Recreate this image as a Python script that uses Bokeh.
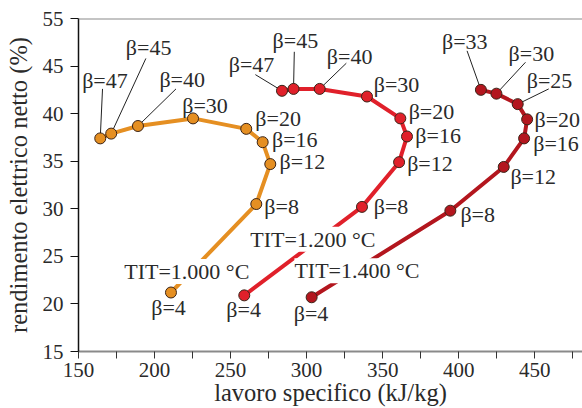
from bokeh.plotting import figure
from bokeh.models import ColumnDataSource, Label, Span, FixedTicker, Range1d
from bokeh.embed import file_html
from bokeh.resources import INLINE
from bokeh.core.properties import value

# ---------------- data ----------------
beta_1000 = [4, 8, 12, 16, 20, 30, 40, 45, 47]
work_1000 = [210.8, 266.9, 276.1, 271.1, 260.3, 225.3, 189.1, 171.5, 164.3]
eff_1000 = [21.2, 30.5, 34.7, 37.0, 38.4, 39.5, 38.7, 37.9, 37.4]

beta_1200 = [4, 8, 12, 16, 20, 30, 40, 45, 47]
work_1200 = [259.0, 336.4, 360.8, 366.0, 361.6, 339.7, 308.6, 291.4, 283.8]
eff_1200 = [20.9, 30.2, 34.9, 37.6, 39.5, 41.8, 42.6, 42.6, 42.4]

beta_1400 = [4, 8, 12, 16, 20, 25, 30, 33]
work_1400 = [303.3, 394.5, 429.6, 443.0, 445.0, 438.8, 424.8, 414.6]
eff_1400 = [20.7, 29.8, 34.4, 37.4, 39.4, 41.0, 42.1, 42.5]

tit_labels = ["TIT=1.000 °C", "TIT=1.200 °C", "TIT=1.400 °C"]
tit_x = [221.2, 304.1, 333.1]
tit_y = [23.4, 26.8, 23.5]

# label placement (data units) for each beta label
lab_x_1000 = [209.2, 272.2, 282.2, 277.2, 266.3, 233.2, 218.2, 196.1, 167.4]
lab_y_1000 = [19.6, 30.2, 35.0, 37.3, 39.5, 40.9, 43.6, 47.0, 43.5]
align_1000 = ["center", "left", "left", "left", "left", "center", "center", "center", "center"]
lead_x_1000 = [None, None, None, None, None, None, 214.1, 194.3, 165.8]
lead_y_1000 = [None, None, None, None, None, None, 42.6, 45.8, 42.6]

lab_x_1200 = [258.6, 344.1, 366.1, 371.5, 367.1, 344.1, 328.3, 292.6, 263.8]
lab_y_1200 = [19.4, 30.2, 34.8, 37.7, 40.2, 43.1, 46.0, 47.7, 45.2]
align_1200 = ["center", "left", "left", "left", "left", "left", "center", "center", "center"]
lead_x_1200 = [None, None, None, None, None, None, 326.1, 291.9, 266.3]
lead_y_1200 = [None, None, None, None, None, None, 45.3, 46.5, 44.1]

lab_x_1400 = [302.9, 401.1, 434.0, 449.0, 449.8, 459.7, 447.8, 404.0]
lab_y_1400 = [19.0, 29.4, 33.4, 36.9, 39.4, 43.5, 46.3, 47.6]
align_1400 = ["center", "left", "left", "left", "left", "center", "center", "center"]
lead_x_1400 = [None, None, None, None, None, 459.2, 443.9, 405.5]
lead_y_1400 = [None, None, None, None, None, 42.6, 45.4, 46.6]

x_ticks = [150, 200, 250, 300, 350, 400, 450]
x_minor = [175, 225, 275, 325, 375, 425, 475]
y_ticks = [15, 20, 25, 30, 35, 40, 45, 50]
y_tick_labels = {50: "55"}

colors = ["#e58f22", "#e0202a", "#b3161e"]
FONT = "Liberation Serif"
TXT = "#2a2a2a"

p = figure(width=582, height=408, output_backend="svg", toolbar_location=None,
           x_range=Range1d(150, 481.4), y_range=Range1d(15, 50),
           min_border_left=78, min_border_right=0, min_border_top=18, min_border_bottom=56)
p.outline_line_color = None
p.xgrid.visible = False
p.ygrid.visible = False
p.background_fill_color = "white"

# axes
p.xaxis.ticker = FixedTicker(ticks=x_ticks, minor_ticks=x_minor)
p.yaxis.ticker = FixedTicker(ticks=y_ticks)
p.yaxis.major_label_overrides = y_tick_labels
p.yaxis.minor_tick_line_color = None
p.xaxis.axis_label = "lavoro specifico (kJ/kg)"
p.yaxis.axis_label = "rendimento elettrico netto (%)"
for ax in (p.xaxis, p.yaxis):
    ax.major_label_text_font = FONT
    ax.major_label_text_font_size = "21px"
    ax.major_label_text_color = TXT
    ax.axis_label_text_font = FONT
    ax.axis_label_text_font_size = "24.5px"
    ax.axis_label_text_font_style = "normal"
    ax.axis_label_text_color = TXT
p.xaxis.axis_line_color = "#8a8a8a"
p.xaxis.axis_line_width = 2
p.xaxis.major_tick_line_color = "#333333"
p.xaxis.minor_tick_line_color = "#333333"
p.xaxis.major_tick_in = 0
p.xaxis.major_tick_out = 7
p.xaxis.minor_tick_in = 0
p.xaxis.minor_tick_out = 7
p.xaxis.major_label_standoff = 4
p.xaxis.axis_label_standoff = -1
p.yaxis.axis_line_color = "#111111"
p.yaxis.axis_line_width = 1.5
p.yaxis.major_tick_line_color = "#111111"
p.yaxis.major_tick_in = 0
p.yaxis.major_tick_out = 8
p.yaxis.major_label_standoff = 7
p.yaxis.axis_label_standoff = 8

p.add_layout(Span(location=50, dimension="width", line_color="#8a8a8a", line_width=2))

series = [
    (beta_1000, work_1000, eff_1000, lab_x_1000, lab_y_1000, align_1000, lead_x_1000, lead_y_1000),
    (beta_1200, work_1200, eff_1200, lab_x_1200, lab_y_1200, align_1200, lead_x_1200, lead_y_1200),
    (beta_1400, work_1400, eff_1400, lab_x_1400, lab_y_1400, align_1400, lead_x_1400, lead_y_1400),
]

for (beta, wx, ey, lx, ly, al, ldx, ldy), col in zip(series, colors):
    # leader lines
    seg = {"x0": [], "y0": [], "x1": [], "y1": []}
    for i in range(len(beta)):
        if ldx[i] is not None:
            seg["x0"].append(ldx[i]); seg["y0"].append(ldy[i])
            seg["x1"].append(wx[i]); seg["y1"].append(ey[i])
    if seg["x0"]:
        p.segment("x0", "y0", "x1", "y1", source=ColumnDataSource(seg),
                  line_color="#222222", line_width=1)
    p.line(wx, ey, line_color=col, line_width=4)
    p.scatter(wx, ey, size=11, fill_color=col, line_color="#3a2418", line_width=1)
    for a in ("center", "left"):
        idx = [i for i in range(len(beta)) if al[i] == a]
        src = ColumnDataSource(dict(x=[lx[i] for i in idx], y=[ly[i] for i in idx],
                                    t=["β=%d" % beta[i] for i in idx]))
        p.text("x", "y", "t", source=src, text_align=a, text_baseline="middle",
               text_font=value(FONT), text_font_size="22px", text_color=TXT)

for t, x, y in zip(tit_labels, tit_x, tit_y):
    p.add_layout(Label(x=x, y=y, text=t, text_align="center", text_baseline="middle",
                       text_font=FONT, text_font_size="22px", text_color=TXT,
                       background_fill_color="white"))

open("out.html", "w").write(file_html(p, INLINE))
